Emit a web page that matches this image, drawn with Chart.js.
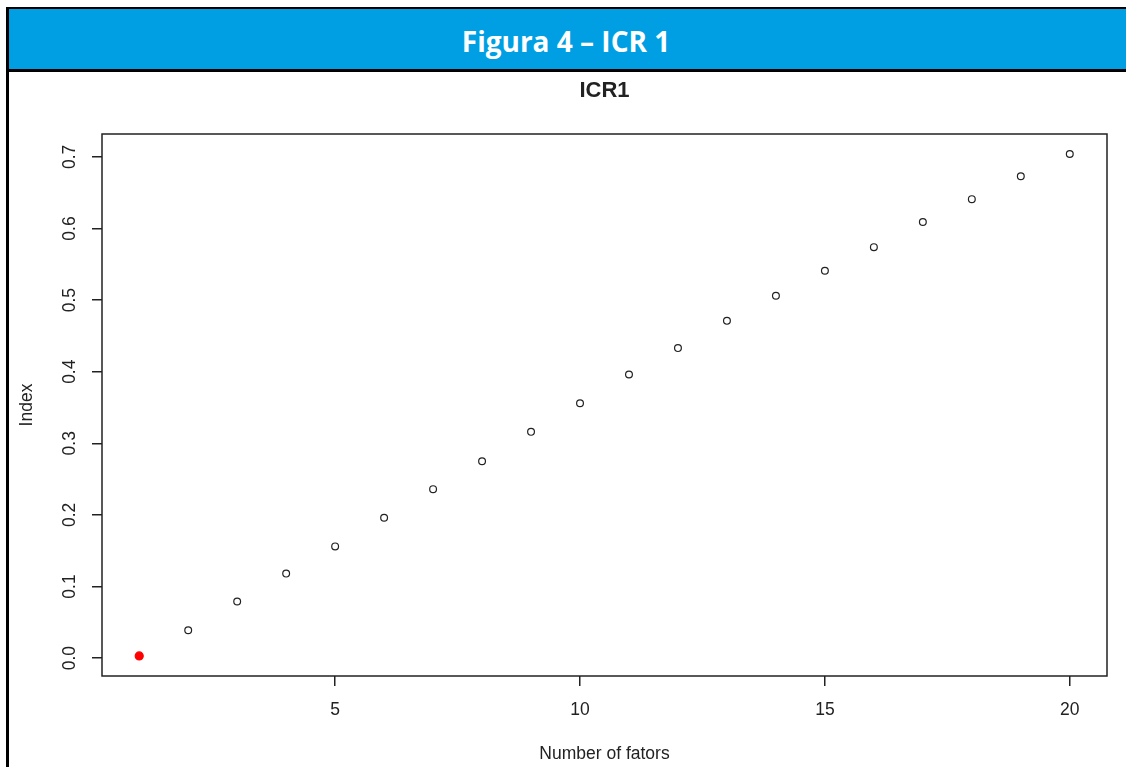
<!DOCTYPE html>
<html>
<head>
<meta charset="utf-8">
<script src="https://cdn.jsdelivr.net/npm/chart.js@4"></script>
<style>
  body { margin: 0; background: #fff; }
  #wrap { position: relative; width: 1126px; height: 767px; overflow: hidden; }
  #plot { position: absolute; left: 0; top: 0; }
  .header {
    position: absolute; left: 6px; top: 7px; width: 1120px; height: 57px;
    background: #009fe3; border-top: 2px solid #000; border-bottom: 3px solid #000;
    color: #fff; font-family: "Open Sans", sans-serif; font-weight: 700; font-size: 28px;
    display: flex; align-items: center; justify-content: center; padding-top: 3px; box-sizing: content-box;
    z-index: 2;
  }
  .leftline { position: absolute; left: 6px; top: 7px; width: 3px; height: 760px; background: #000; z-index: 3; }
</style>
</head>
<body>
<div id="wrap">
  <canvas id="plot" width="1126" height="767"></canvas>
  <div class="header">Figura 4 – ICR 1</div>
  <div class="leftline"></div>
</div>
<script>
// number of factors and ICR1 index
const factors = [1, 2, 3, 4, 5, 6, 7, 8, 9, 10, 11, 12, 13, 14, 15, 16, 17, 18, 19, 20];
const icr1 = [0.003, 0.039, 0.079, 0.118, 0.156, 0.196, 0.236, 0.275, 0.316, 0.356,
  0.396, 0.433, 0.471, 0.506, 0.541, 0.574, 0.609, 0.641, 0.673, 0.704];
const xTicks = [5, 10, 15, 20];
const yTicks = [0, 0.1, 0.2, 0.3, 0.4, 0.5, 0.6, 0.7];
const highlighted = 0; // first point is drawn in red

const font = "'Liberation Sans', Arial, sans-serif";
const ink = "#222";

// box around the plot, title over the plot area, rotated y tick labels (like R)
const rStyle = {
  id: "rStyle",
  afterDraw(chart) {
    const { ctx, chartArea: a, scales } = chart;
    ctx.save();
    ctx.strokeStyle = ink;
    ctx.lineWidth = 1.5;
    ctx.strokeRect(a.left, a.top, a.right - a.left, a.bottom - a.top);
    ctx.fillStyle = ink;
    ctx.textAlign = "center";
    ctx.textBaseline = "middle";
    ctx.font = "bold 22px " + font;
    ctx.fillText("ICR1", (a.left + a.right) / 2, 91);
    ctx.font = "17.5px " + font;
    yTicks.forEach((v) => {
      const y = scales.y.getPixelForValue(v);
      ctx.save();
      ctx.translate(70, y);
      ctx.rotate(-Math.PI / 2);
      ctx.fillText(v.toFixed(1), 0, 0);
      ctx.restore();
    });
    ctx.restore();
  },
};

new Chart(document.getElementById("plot"), {
  type: "scatter",
  data: {
    datasets: [
      {
        data: factors.map((f, i) => ({ x: f, y: icr1[i] })),
        showLine: false,
        pointRadius: (c) => (c.dataIndex === highlighted ? 4 : 3.4),
        pointBorderWidth: 1.2,
        pointBorderColor: (c) => (c.dataIndex === highlighted ? "#ff0000" : ink),
        pointBackgroundColor: (c) => (c.dataIndex === highlighted ? "#ff0000" : "rgba(0,0,0,0)"),
      },
    ],
  },
  plugins: [rStyle],
  options: {
    responsive: false,
    animation: false,
    layout: { padding: { top: 134, right: 19, left: 0, bottom: 0 } },
    plugins: {
      legend: { display: false },
      tooltip: { enabled: false },
      title: { display: false },
    },
    scales: {
      x: {
        type: "linear",
        min: 0.24,
        max: 20.76,
        afterBuildTicks: (s) => { s.ticks = xTicks.map((v) => ({ value: v })); },
        afterFit: (s) => { s.height = 91; },
        border: { display: false },
        grid: { drawOnChartArea: false, tickLength: 10, color: ink, lineWidth: 1.5 },
        ticks: { color: ink, font: { family: font, size: 17.5 }, padding: 13.5, maxRotation: 0 },
        title: {
          display: true,
          text: "Number of fators",
          color: ink,
          font: { family: font, size: 17.5 },
          padding: { top: 0, bottom: 2.5 },
        },
      },
      y: {
        type: "linear",
        min: -0.025,
        max: 0.732,
        afterBuildTicks: (s) => { s.ticks = yTicks.map((v) => ({ value: v })); },
        afterFit: (s) => { s.width = 102; },
        border: { display: false },
        grid: { drawOnChartArea: false, tickLength: 10, color: ink, lineWidth: 1.5 },
        ticks: { display: false },
        title: {
          display: true,
          text: "Index",
          color: ink,
          font: { family: font, size: 17.5 },
          padding: { top: 16.5, bottom: 0 },
        },
      },
    },
  },
});
</script>
</body>
</html>
